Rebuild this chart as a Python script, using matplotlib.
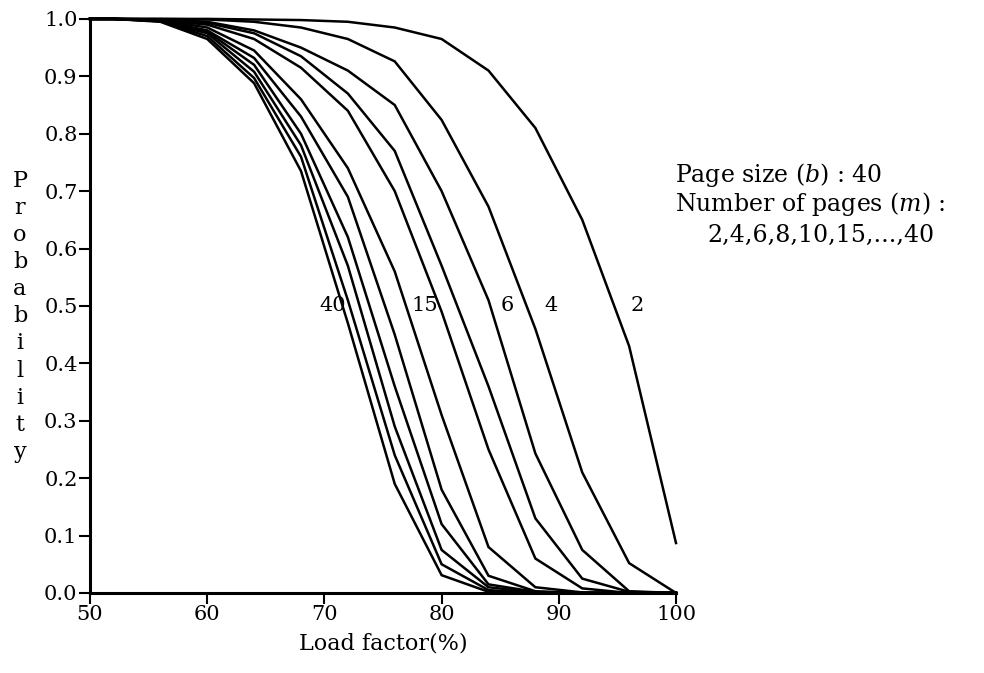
import numpy as np
import matplotlib
matplotlib.use("Agg")
from matplotlib import pyplot as plt

plt.rcParams['font.family'] = ['DejaVu Serif']
plt.rcParams['mathtext.fontset'] = 'dejavuserif'

# load factor (%) where the curves were sampled
load = [50, 52, 56, 60, 64, 68, 72, 76, 80, 84, 88, 92, 96, 100]

# probability for each number of pages m (page size b = 40)
p_m2 = [1.0, 1.0, 1.0, 1.0, 0.999, 0.998, 0.995, 0.985, 0.965, 0.91, 0.81, 0.65, 0.43, 0.087]
p_m4 = [1.0, 1.0, 1.0, 0.999, 0.995, 0.985, 0.965, 0.926, 0.824, 0.673, 0.46, 0.21, 0.052, 0.0]
p_m6 = [1.0, 1.0, 0.999, 0.995, 0.98, 0.95, 0.91, 0.85, 0.70, 0.51, 0.243, 0.075, 0.003, 0.0]
p_m8 = [1.0, 1.0, 0.999, 0.993, 0.975, 0.935, 0.87, 0.77, 0.57, 0.36, 0.13, 0.025, 0.002, 0.0]
p_m10 = [1.0, 1.0, 0.998, 0.99, 0.965, 0.915, 0.84, 0.70, 0.49, 0.25, 0.06, 0.008, 0.0, 0.0]
p_m15 = [1.0, 1.0, 0.998, 0.985, 0.945, 0.86, 0.74, 0.56, 0.31, 0.08, 0.01, 0.001, 0.0, 0.0]
p_m20 = [1.0, 1.0, 0.997, 0.98, 0.932, 0.83, 0.69, 0.45, 0.18, 0.03, 0.003, 0.0, 0.0, 0.0]
p_m25 = [1.0, 1.0, 0.997, 0.978, 0.92, 0.80, 0.62, 0.36, 0.12, 0.015, 0.002, 0.0, 0.0, 0.0]
p_m30 = [1.0, 1.0, 0.996, 0.975, 0.908, 0.78, 0.57, 0.29, 0.075, 0.01, 0.001, 0.0, 0.0, 0.0]
p_m35 = [1.0, 1.0, 0.996, 0.97, 0.897, 0.76, 0.51, 0.24, 0.05, 0.005, 0.0, 0.0, 0.0, 0.0]
p_m40 = [1.0, 1.0, 0.995, 0.965, 0.888, 0.735, 0.47, 0.19, 0.031, 0.002, 0.0, 0.0, 0.0, 0.0]

curves = [p_m2, p_m4, p_m6, p_m8, p_m10, p_m15, p_m20, p_m25, p_m30, p_m35, p_m40]

# curve labels written inside the plot
label_text = ['40', '15', '6', '4', '2']
label_x = [70.7, 78.6, 85.6, 89.3, 96.7]
label_y = [0.5, 0.5, 0.5, 0.5, 0.5]

xticks = [50, 60, 70, 80, 90, 100]
yticks = [0.0, 0.1, 0.2, 0.3, 0.4, 0.5, 0.6, 0.7, 0.8, 0.9, 1.0]

fig = plt.figure(figsize=(9.84, 6.73), dpi=100)
ax = fig.add_axes([0.0915, 0.1189, 0.5955, 0.853])

for p in curves:
    ax.plot(load, p, color='black', linewidth=1.8, solid_joinstyle='miter', clip_on=False)

for t, x, y in zip(label_text, label_x, label_y):
    ax.text(x, y, t, ha='center', va='center', fontsize=15)

ax.set_xlim(50, 100)
ax.set_ylim(0, 1.0)
ax.set_xticks(xticks)
ax.set_yticks(yticks)
ax.set_yticklabels(['%.1f' % v for v in yticks])
ax.tick_params(axis='both', direction='out', length=8, width=1.5, labelsize=15, pad=1)
for s in ['top', 'right']:
    ax.spines[s].set_visible(False)
for s in ['left', 'bottom']:
    ax.spines[s].set_linewidth(2.2)

ax.set_xlabel('Load factor(%)', fontsize=16, labelpad=6)

# stacked vertical y label
fig.text(20 / 984, 0.53, '\n'.join('Probability'), ha='center', va='center',
         fontsize=16, linespacing=1.3)

fig.text(675 / 984, 1 - 175 / 673, 'Page size $(b)$ : 40', ha='left', va='center', fontsize=17)
fig.text(675 / 984, 1 - 204 / 673, 'Number of pages $(m)$ :', ha='left', va='center', fontsize=17)
fig.text(707 / 984, 1 - 235 / 673, '2,4,6,8,10,15,...,40', ha='left', va='center', fontsize=17)

plt.savefig('out.png', dpi=100, facecolor='white')
plt.close('all')
